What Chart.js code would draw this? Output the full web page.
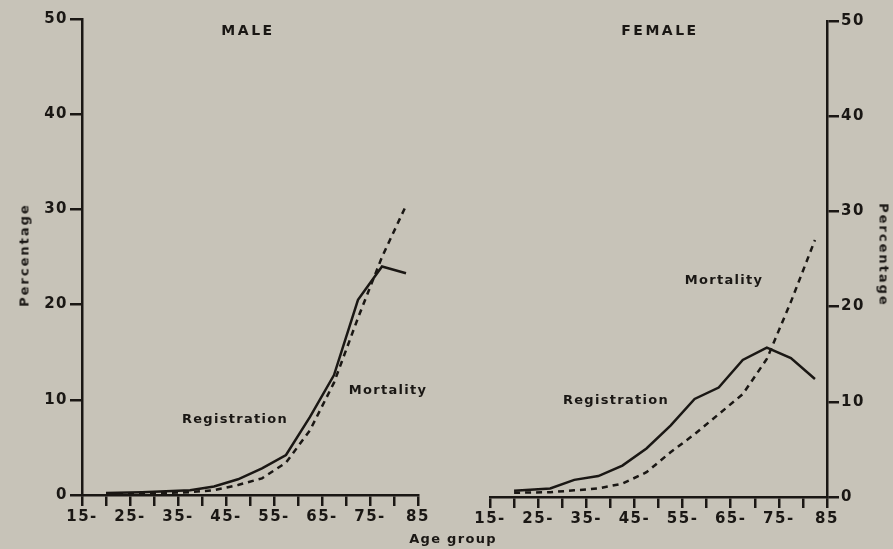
<!DOCTYPE html>
<html>
<head>
<meta charset="utf-8">
<script src="https://cdn.jsdelivr.net/npm/chart.js@4.4.1/dist/chart.umd.min.js"></script>
<style>
  body { margin: 0; background: #c7c3b8; }
  #wrap { position: relative; width: 893px; height: 549px; background: #c7c3b8; overflow: hidden; font-family: 'DejaVu Sans', sans-serif; font-weight: bold; color: #1a1714; }
  canvas { position: absolute; top: 0; }
  .lbl { position: absolute; font-size: 13px; letter-spacing: 1.3px; white-space: nowrap; transform: translate(-50%, -50%); }
  .ttl { font-size: 14px; letter-spacing: 2.5px; }
</style>
</head>
<body>
<div id="wrap">
  <canvas id="male" width="446" height="549" style="left:0"></canvas>
  <canvas id="female" width="447" height="549" style="left:446px"></canvas>
  <div class="lbl ttl" style="left:248px; top:30px">MALE</div>
  <div class="lbl ttl" style="left:660px; top:30px">FEMALE</div>
  <div class="lbl" style="left:235px; top:418px">Registration</div>
  <div class="lbl" style="left:388px; top:389px">Mortality</div>
  <div class="lbl" style="left:616px; top:399px">Registration</div>
  <div class="lbl" style="left:724px; top:279px">Mortality</div>
  <div class="lbl" style="left:453px; top:538px">Age group</div>
  <div class="lbl" style="left:24px; top:255px; letter-spacing:2px; transform: translate(-50%, -50%) rotate(-90deg)">Percentage</div>
  <div class="lbl" style="left:884px; top:255px; letter-spacing:2px; transform: translate(-50%, -50%) rotate(90deg)">Percentage</div>
</div>
<script>
// midpoints of the age groups
const ages = [20, 27.5, 32.5, 37.5, 42.5, 47.5, 52.5, 57.5, 62.5, 67.5, 72.5, 77.5, 82.5];

const maleRegistration = [0.2, 0.3, 0.4, 0.5, 0.9, 1.65, 2.8, 4.2, 8.2, 12.6, 20.5, 24.0, 23.3];
const maleMortality    = [0.1, 0.15, 0.2, 0.3, 0.5, 1.05, 1.75, 3.4, 6.8, 11.8, 18.6, 25.0, 30.4];

const femaleRegistration = [0.65, 0.9, 1.8, 2.2, 3.3, 5.1, 7.5, 10.3, 11.5, 14.4, 15.7, 14.6, 12.4];
const femaleMortality    = [0.45, 0.5, 0.7, 0.9, 1.4, 2.6, 4.7, 6.6, 8.7, 10.8, 14.5, 20.5, 27.0];

const yTicks = [0, 10, 20, 30, 40, 50];

const ink = '#1a1714';
const tickFont = { family: 'DejaVu Sans', size: 15, weight: 'bold' };

// wider lettering for the tick labels, like the printed original
const spacing = {
  id: 'spacing',
  beforeDraw(chart) { chart.ctx.letterSpacing = '1.5px'; }
};

function pts(values) {
  return values.map((v, i) => ({ x: ages[i], y: v }));
}

function makeChart(id, reg, mort, side, pad, xH, yW) {
  return new Chart(document.getElementById(id), {
    type: 'line',
    data: {
      datasets: [{
        data: pts(reg),
        borderColor: ink,
        borderWidth: 2.5,
        pointRadius: 0,
        tension: 0
      }, {
        data: pts(mort),
        borderColor: ink,
        borderWidth: 2.5,
        borderDash: [6, 5],
        pointRadius: 0,
        tension: 0
      }]
    },
    options: {
      responsive: false,
      animation: false,
      layout: { padding: pad },
      plugins: { legend: { display: false }, tooltip: { enabled: false } },
      scales: {
        x: {
          type: 'linear',
          min: 15, max: 85,
          afterFit: s => { s.height = xH; },
          border: { display: true, color: ink, width: 2.5 },
          grid: { drawOnChartArea: false, drawTicks: true, tickLength: 11, color: ink, lineWidth: 2.5 },
          ticks: {
            stepSize: 5, autoSkip: false, maxRotation: 0, color: ink, font: tickFont, padding: 2,
            callback: v => v === 85 ? '85' : (v % 10 === 5 ? v + '-' : '')
          }
        },
        y: {
          position: side,
          min: 0, max: 50,
          afterFit: s => { s.width = yW; },
          afterBuildTicks: s => { s.ticks = yTicks.map(v => ({ value: v })); },
          border: { display: true, color: ink, width: 2.5 },
          grid: { drawOnChartArea: false, drawTicks: true, tickLength: 12, color: ink, lineWidth: 2.5 },
          ticks: { color: ink, font: tickFont, padding: 2 }
        }
      }
    },
    plugins: [spacing]
  });
}

makeChart('male', maleRegistration, maleMortality, 'left', { top: 19, right: 28, left: 0, bottom: 0 }, 54, 82);
makeChart('female', femaleRegistration, femaleMortality, 'right', { top: 21, right: 0, left: 44, bottom: 0 }, 52, 66);
</script>
</body>
</html>
